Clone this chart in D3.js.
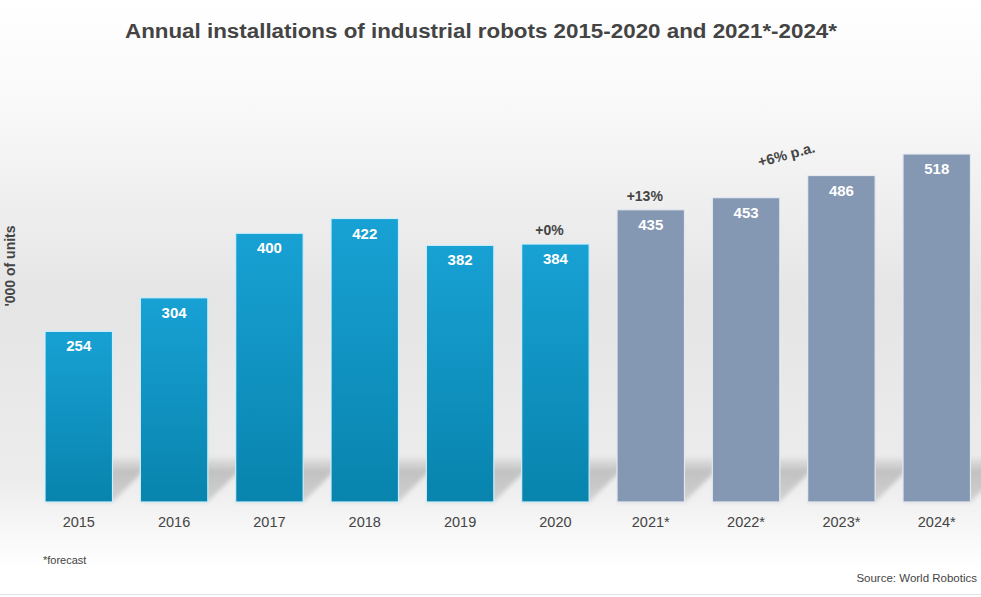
<!DOCTYPE html>
<html>
<head>
<meta charset="utf-8">
<script src="https://cdn.jsdelivr.net/npm/d3@7"></script>
<style>
  html, body { margin: 0; padding: 0; background: #fff; }
  svg { display: block; font-family: "Liberation Sans", Arial, sans-serif; }
</style>
</head>
<body>
<svg id="chart" width="981" height="597"></svg>
<script>
const years = ['2015', '2016', '2017', '2018', '2019', '2020', '2021*', '2022*', '2023*', '2024*'];
const installs = [254, 304, 400, 422, 382, 384, 435, 453, 486, 518];
const forecast = [false, false, false, false, false, false, true, true, true, true];
// growth notes: [year, text]
const growthNotes = [['2020', '+0%'], ['2021*', '+13%']];
const trendNote = '+6% p.a.';

const BASE_Y = 502;
const SHADOW = 44;

const svg = d3.select('#chart');
const defs = svg.append('defs');

// background: white top, grey middle, white bottom
const bg = defs.append('linearGradient').attr('id', 'bg')
  .attr('x1', 0).attr('y1', 0).attr('x2', 0).attr('y2', 1);
[[0, '#ffffff'], [0.17, '#f9f9f9'], [0.5, '#e5e5e5'], [0.8, '#ececec'], [0.95, '#ffffff'], [1, '#ffffff']]
  .forEach(s => bg.append('stop').attr('offset', s[0]).attr('stop-color', s[1]));

const blue = defs.append('linearGradient').attr('id', 'blue')
  .attr('x1', 0).attr('y1', 0).attr('x2', 0).attr('y2', 1);
blue.append('stop').attr('offset', 0).attr('stop-color', '#18a1d4');
blue.append('stop').attr('offset', 1).attr('stop-color', '#0884ad');

// shadow: soft upper edge, darker middle, lighter at the floor
const shade = defs.append('linearGradient').attr('id', 'shade')
  .attr('x1', 0).attr('y1', 0).attr('x2', 0).attr('y2', 1);
[[0, '#c8c8c8', 0.3], [0.3, '#bdbdbd', 0.9], [1, '#d2d2d2', 1]]
  .forEach(s => shade.append('stop').attr('offset', s[0])
    .attr('stop-color', s[1]).attr('stop-opacity', s[2]));

defs.append('filter').attr('id', 'blur')
  .append('feGaussianBlur').attr('stdDeviation', 2);

svg.append('rect').attr('width', 981).attr('height', 597).attr('fill', 'url(#bg)');
svg.append('line').attr('x1', 0).attr('x2', 981).attr('y1', 594.5).attr('y2', 594.5)
  .attr('stroke', '#e2e2e2');

const x = d3.scaleBand().domain(years).range([31.1, 984.4])
  .paddingInner(0.292).paddingOuter(0.146);
const y = d3.scaleLinear().domain([0, 600]).range([BASE_Y, BASE_Y - 600 * 0.6718]);

// diagonal shadows behind bars
svg.append('g').attr('filter', 'url(#blur)')
  .selectAll('path').data(years).join('path')
  .attr('d', d => {
    const x0 = x(d), x1 = x(d) + x.bandwidth();
    return `M${x0},${BASE_Y} L${x1},${BASE_Y} L${x1 + SHADOW},${BASE_Y - SHADOW} L${x0 + SHADOW},${BASE_Y - SHADOW} Z`;
  })
  .attr('fill', 'url(#shade)');

// bars
svg.append('g').selectAll('rect').data(years).join('rect')
  .attr('x', d => x(d))
  .attr('y', (d, i) => y(installs[i]))
  .attr('width', x.bandwidth())
  .attr('height', (d, i) => BASE_Y - y(installs[i]))
  .attr('fill', (d, i) => forecast[i] ? '#8497b3' : 'url(#blue)')
  .attr('stroke', (d, i) => forecast[i] ? '#e4e9f0' : '#cdeefa')
  .attr('stroke-width', 1.2);

// value labels inside bars
svg.append('g').selectAll('text').data(years).join('text')
  .attr('x', d => x(d) + x.bandwidth() / 2)
  .attr('y', (d, i) => y(installs[i]) + 20)
  .attr('text-anchor', 'middle')
  .attr('font-size', 15).attr('font-weight', 'bold').attr('fill', '#fff')
  .text((d, i) => installs[i]);

// x axis labels
svg.append('g').selectAll('text').data(years).join('text')
  .attr('x', d => x(d) + x.bandwidth() / 2)
  .attr('y', 527)
  .attr('text-anchor', 'middle')
  .attr('font-size', 14.5).attr('fill', '#444')
  .text(d => d);

// growth notes
svg.append('g').selectAll('text').data(growthNotes).join('text')
  .attr('x', d => x(d[0]) + x.bandwidth() / 2 - 6)
  .attr('y', d => y(installs[years.indexOf(d[0])]) - 9)
  .attr('text-anchor', 'middle')
  .attr('font-size', 14).attr('font-weight', 'bold').attr('fill', '#444')
  .text(d => d[1]);

const tx = (x('2022*') + x('2023*') + x.bandwidth()) / 2 - 6;
svg.append('text')
  .attr('transform', `translate(${tx},${y(installs[8]) - 16}) rotate(-15)`)
  .attr('text-anchor', 'middle')
  .attr('font-size', 14.5).attr('font-weight', 'bold').attr('fill', '#444')
  .text(trendNote);

// title
svg.append('text')
  .attr('x', 481).attr('y', 38)
  .attr('text-anchor', 'middle')
  .attr('font-size', 20).attr('font-weight', 'bold').attr('fill', '#444')
  .attr('textLength', 712).attr('lengthAdjust', 'spacingAndGlyphs')
  .text('Annual installations of industrial robots 2015-2020 and 2021*-2024*');

// y axis label
svg.append('text')
  .attr('transform', 'translate(15,266) rotate(-90)')
  .attr('text-anchor', 'middle')
  .attr('font-size', 14).attr('font-weight', 'bold').attr('fill', '#444')
  .text("'000 of units");

svg.append('text')
  .attr('x', 43).attr('y', 564)
  .attr('font-size', 11).attr('fill', '#444')
  .text('*forecast');

svg.append('text')
  .attr('x', 977).attr('y', 582)
  .attr('text-anchor', 'end')
  .attr('font-size', 11.5).attr('fill', '#444')
  .text('Source: World Robotics');
</script>
</body>
</html>
